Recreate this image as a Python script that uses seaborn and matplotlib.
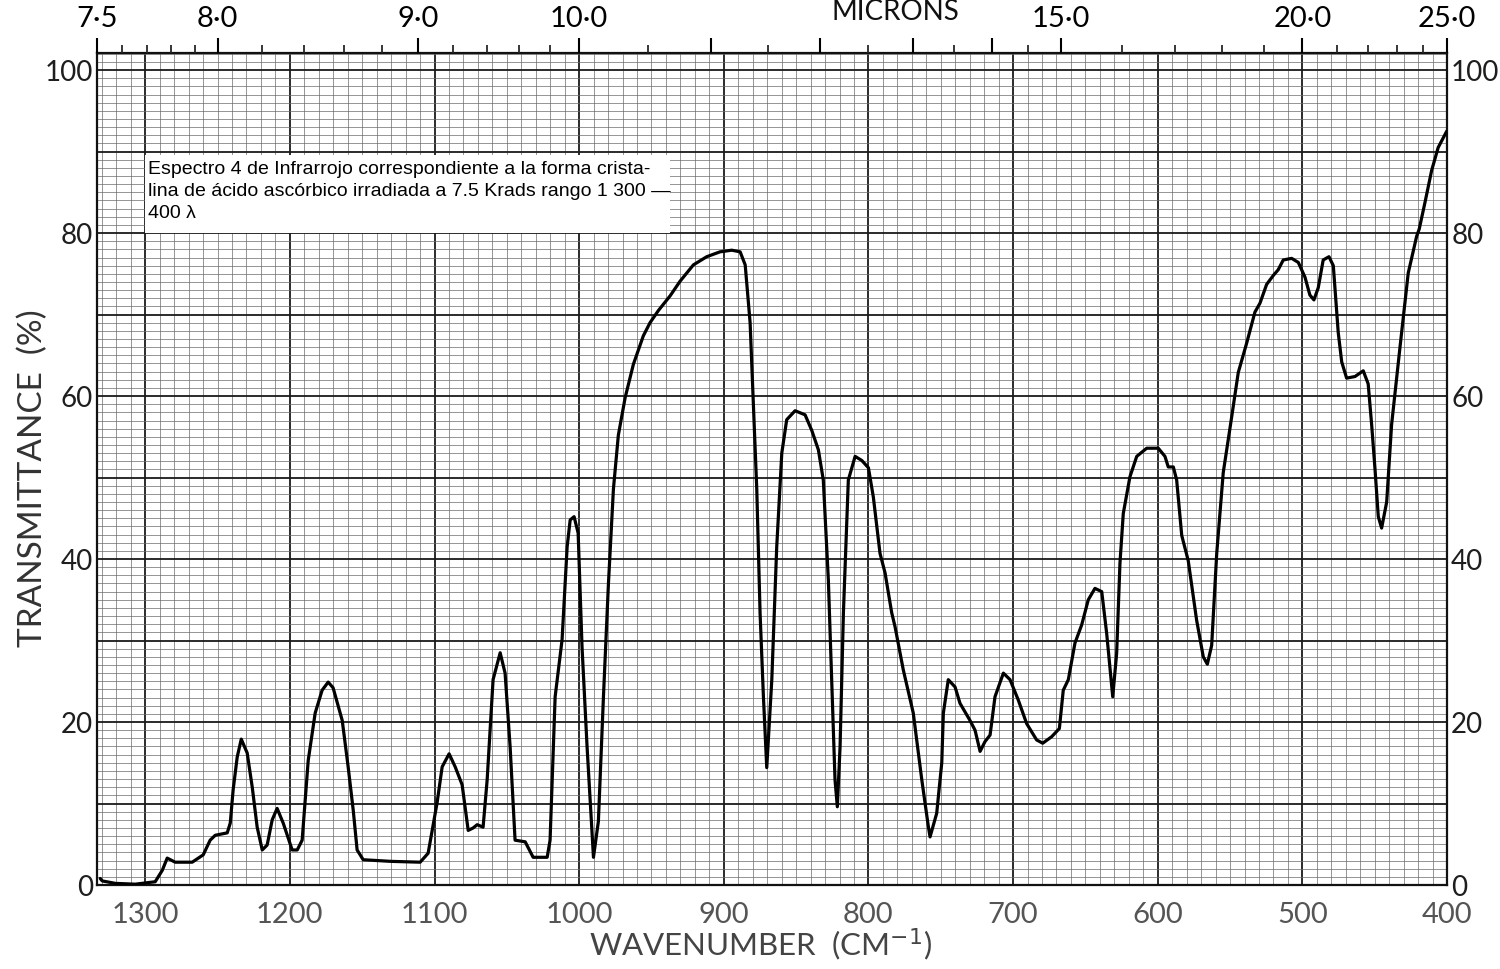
import numpy as np
import pandas as pd
import matplotlib
matplotlib.use("Agg")
import matplotlib.pyplot as plt
from matplotlib.ticker import MultipleLocator, FuncFormatter, FixedLocator
from matplotlib.patches import Rectangle
import seaborn as sns

# ---- data ----
wavenumber = [
    1331.1, 1329.7, 1320.7, 1306.9, 1293.1, 1288.2, 1284.8, 1279.3, 1267.5, 1259.9,
    1255.1, 1251.6, 1243.3, 1241.2, 1239.2, 1236.4, 1233.6, 1229.5, 1226.0, 1222.6,
    1219.1, 1215.7, 1212.2, 1208.8, 1204.6, 1198.4, 1194.9, 1191.5, 1187.3, 1182.5,
    1177.7, 1173.5, 1170.1, 1163.8, 1159.7, 1156.2, 1153.5, 1149.3, 1130.0, 1109.9,
    1104.4, 1098.2, 1094.7, 1089.9, 1085.7, 1080.9, 1076.7, 1073.3, 1070.5, 1066.4,
    1063.6, 1059.5, 1054.6, 1051.2, 1047.7, 1044.3, 1037.3, 1031.8, 1022.1, 1020.1,
    1016.6, 1011.8, 1008.3, 1006.2, 1003.5, 1000.7, 998.0, 994.5, 990.1, 986.7,
    983.2, 979.8, 976.3, 972.9, 968.2, 962.5, 955.6, 951.0, 945.2, 937.1,
    930.2, 921.0, 911.8, 902.6, 894.5, 888.7, 885.2, 881.8, 879.5, 877.2,
    874.9, 872.6, 870.3, 866.8, 863.4, 859.9, 856.5, 850.7, 843.8, 839.2,
    834.6, 831.2, 827.7, 825.4, 823.1, 821.5, 819.6, 817.3, 813.9, 809.2,
    804.6, 800.0, 796.6, 792.0, 788.5, 783.9, 781.6, 775.9, 769.0, 763.1,
    758.6, 757.4, 752.8, 749.3, 748.2, 744.8, 740.1, 736.7, 729.8, 726.3,
    722.8, 719.4, 715.9, 712.5, 706.7, 702.1, 696.4, 690.6, 683.7, 679.5,
    673.3, 668.0, 665.3, 661.8, 657.2, 652.6, 648.0, 643.4, 638.7, 635.3,
    631.1, 628.4, 626.1, 623.8, 619.2, 614.5, 607.6, 599.6, 595.0, 592.7,
    589.2, 586.9, 583.4, 578.9, 573.1, 568.5, 565.7, 562.7, 559.2, 554.7,
    548.9, 544.3, 538.5, 532.8, 529.3, 524.7, 520.1, 516.7, 513.2, 507.4,
    502.8, 498.2, 494.8, 492.0, 489.0, 485.6, 481.6, 478.6, 475.2, 472.8,
    469.4, 463.6, 457.9, 454.5, 452.1, 449.8, 447.5, 445.2, 441.7, 438.3,
    432.5, 426.8, 421.0, 419.2, 415.3, 410.6, 406.1, 400.2,
]
transmittance = [
    0.8, 0.5, 0.2, 0.1, 0.4, 1.8, 3.3, 2.8, 2.8, 3.7,
    5.5, 6.1, 6.4, 7.6, 11.7, 15.7, 17.9, 16.2, 12.0, 7.1,
    4.3, 4.9, 8.0, 9.4, 7.6, 4.3, 4.3, 5.5, 15.3, 21.1,
    23.9, 24.9, 24.2, 20.2, 14.5, 9.2, 4.3, 3.1, 2.9, 2.8,
    3.9, 10.1, 14.5, 16.1, 14.5, 12.3, 6.7, 7.0, 7.4, 7.1,
    12.9, 25.2, 28.5, 26.0, 16.9, 5.5, 5.3, 3.4, 3.4, 5.5,
    23.1, 30.1, 41.5, 44.8, 45.2, 43.2, 29.2, 16.9, 3.4, 7.8,
    23.1, 36.8, 48.6, 55.2, 59.8, 63.9, 67.4, 69.0, 70.5, 72.3,
    74.1, 76.1, 77.1, 77.7, 77.9, 77.7, 76.1, 69.0, 58.8, 48.6,
    33.3, 23.1, 14.4, 25.2, 41.5, 53.0, 57.1, 58.2, 57.7, 55.8,
    53.4, 49.7, 37.4, 25.2, 12.9, 9.6, 17.0, 33.4, 49.7, 52.6,
    52.1, 51.2, 47.6, 40.7, 38.3, 33.4, 31.7, 26.4, 21.1, 12.9,
    7.2, 5.9, 8.8, 15.0, 21.1, 25.2, 24.3, 22.3, 20.2, 19.0,
    16.4, 17.6, 18.4, 23.1, 26.0, 25.2, 22.7, 19.8, 17.8, 17.4,
    18.2, 19.2, 23.9, 25.2, 29.7, 31.9, 35.0, 36.4, 36.0, 30.9,
    23.1, 28.4, 39.5, 45.6, 50.1, 52.6, 53.6, 53.6, 52.6, 51.3,
    51.3, 49.7, 42.9, 39.8, 32.5, 28.0, 27.1, 29.4, 40.7, 50.6,
    57.4, 62.9, 66.5, 70.3, 71.4, 73.7, 74.8, 75.5, 76.7, 76.9,
    76.4, 74.6, 72.4, 71.8, 73.3, 76.7, 77.1, 76.0, 67.8, 64.2,
    62.2, 62.4, 63.1, 61.5, 56.5, 51.1, 45.2, 43.8, 47.0, 56.5,
    66.0, 75.1, 79.6, 80.5, 83.7, 87.7, 90.5, 92.5,
]
bottom_ticks = [1300, 1200, 1100, 1000, 900, 800, 700, 600, 500, 400]
left_ticks = [0, 20, 40, 60, 80, 100]
micron_major = [7.5, 8.0, 9.0, 10.0, 11.0, 12.0, 13.0, 14.0, 15.0, 20.0, 25.0]
micron_labels = ["7·5", "8·0", "9·0", "10·0", "", "", "", "", "15·0", "20·0", "25·0"]
micron_minor = [7.6, 7.7, 7.8, 7.9, 8.2, 8.4, 8.6, 8.8, 9.2, 9.4, 9.6, 9.8,
                10.5, 11.5, 12.5, 13.5, 14.5, 16, 17, 18, 19, 21, 22, 23, 24]
note = ("Espectro 4 de Infrarrojo correspondiente a la forma crista-\n"
        "lina de ácido ascórbico irradiada a 7.5 Krads rango 1 300 —\n"
        "400 λ")

df = pd.DataFrame({"wn": wavenumber, "T": transmittance})

sns.set_theme(style="white")
plt.rcParams["font.family"] = ["Lato", "DejaVu Sans"]

W, H = 1500, 969
fig = plt.figure(figsize=(W / 100, H / 100), dpi=100)
ax = fig.add_axes([97 / W, 1 - 885 / H, (1447 - 97) / W, (885 - 53) / H])

xmin, xmax = 1e4 / 7.5, 400.0
ax.set_xlim(xmin, xmax)
ax.set_ylim(0, 102.1)

# grid paper
ax.set_axisbelow(True)
ax.xaxis.set_major_locator(FixedLocator(bottom_ticks))
ax.xaxis.set_minor_locator(MultipleLocator(10))
ax.yaxis.set_major_locator(MultipleLocator(10))
ax.yaxis.set_minor_locator(MultipleLocator(1))
ax.grid(which="major", color="#1a1a1a", lw=1.3)
ax.grid(which="minor", color="#6a6a6a", lw=0.5)

ax.yaxis.set_major_formatter(FuncFormatter(lambda v, p: f"{int(round(v))}" if round(v) % 20 == 0 else ""))
ax.tick_params(axis="y", which="both", length=0, labelleft=True, labelright=True,
               labelsize=20, colors="#1e1e1e", pad=3)
ax.tick_params(axis="x", which="both", length=0, labelsize=21, colors="#555555", pad=12)

for s in ax.spines.values():
    s.set_color("#111111")
    s.set_linewidth(1.6)

# note box
ax.add_patch(Rectangle((937, 80), 1300 - 937, 9.6, facecolor="white", edgecolor="none", zorder=2))
ax.text(1298, 88.9, note, fontsize=14, va="top", ha="left", linespacing=1.4,
        color="black", zorder=3, family=["Liberation Sans", "DejaVu Sans"])

sns.lineplot(data=df, x="wn", y="T", ax=ax, sort=False, estimator=None,
             color="black", lw=2.3, zorder=4)
ax.set_xlabel("")
ax.set_ylabel("")

# micron axis on top
ax2 = ax.twiny()
ax2.set_xlim(ax.get_xlim())
ax2.xaxis.set_major_locator(FixedLocator([1e4 / m for m in micron_major]))
ax2.xaxis.set_minor_locator(FixedLocator([1e4 / m for m in micron_minor]))
ax2.set_xticklabels(micron_labels)
ax2.tick_params(axis="x", which="major", direction="out", length=11, width=1.5,
                labelsize=21, colors="black", pad=4)
ax2.tick_params(axis="x", which="minor", direction="out", length=5.5, width=1.3)
ax2.grid(False)
for s in ax2.spines.values():
    s.set_visible(False)

fig.text(895 / W, 1 - 20 / H, "MICRONS", ha="center", va="baseline", fontsize=20, color="#111111")
fig.text(33 / W, 1 - 478 / H, "TRANSMITTANCE  (%)", rotation=90, ha="center", va="center",
         fontsize=24, color="#333333")
fig.text(760 / W, 1 - 945 / H, "WAVENUMBER  (CM$^{-1}$)", ha="center", va="center",
         fontsize=22.5, color="#444444")

fig.savefig("out.png", dpi=100)
